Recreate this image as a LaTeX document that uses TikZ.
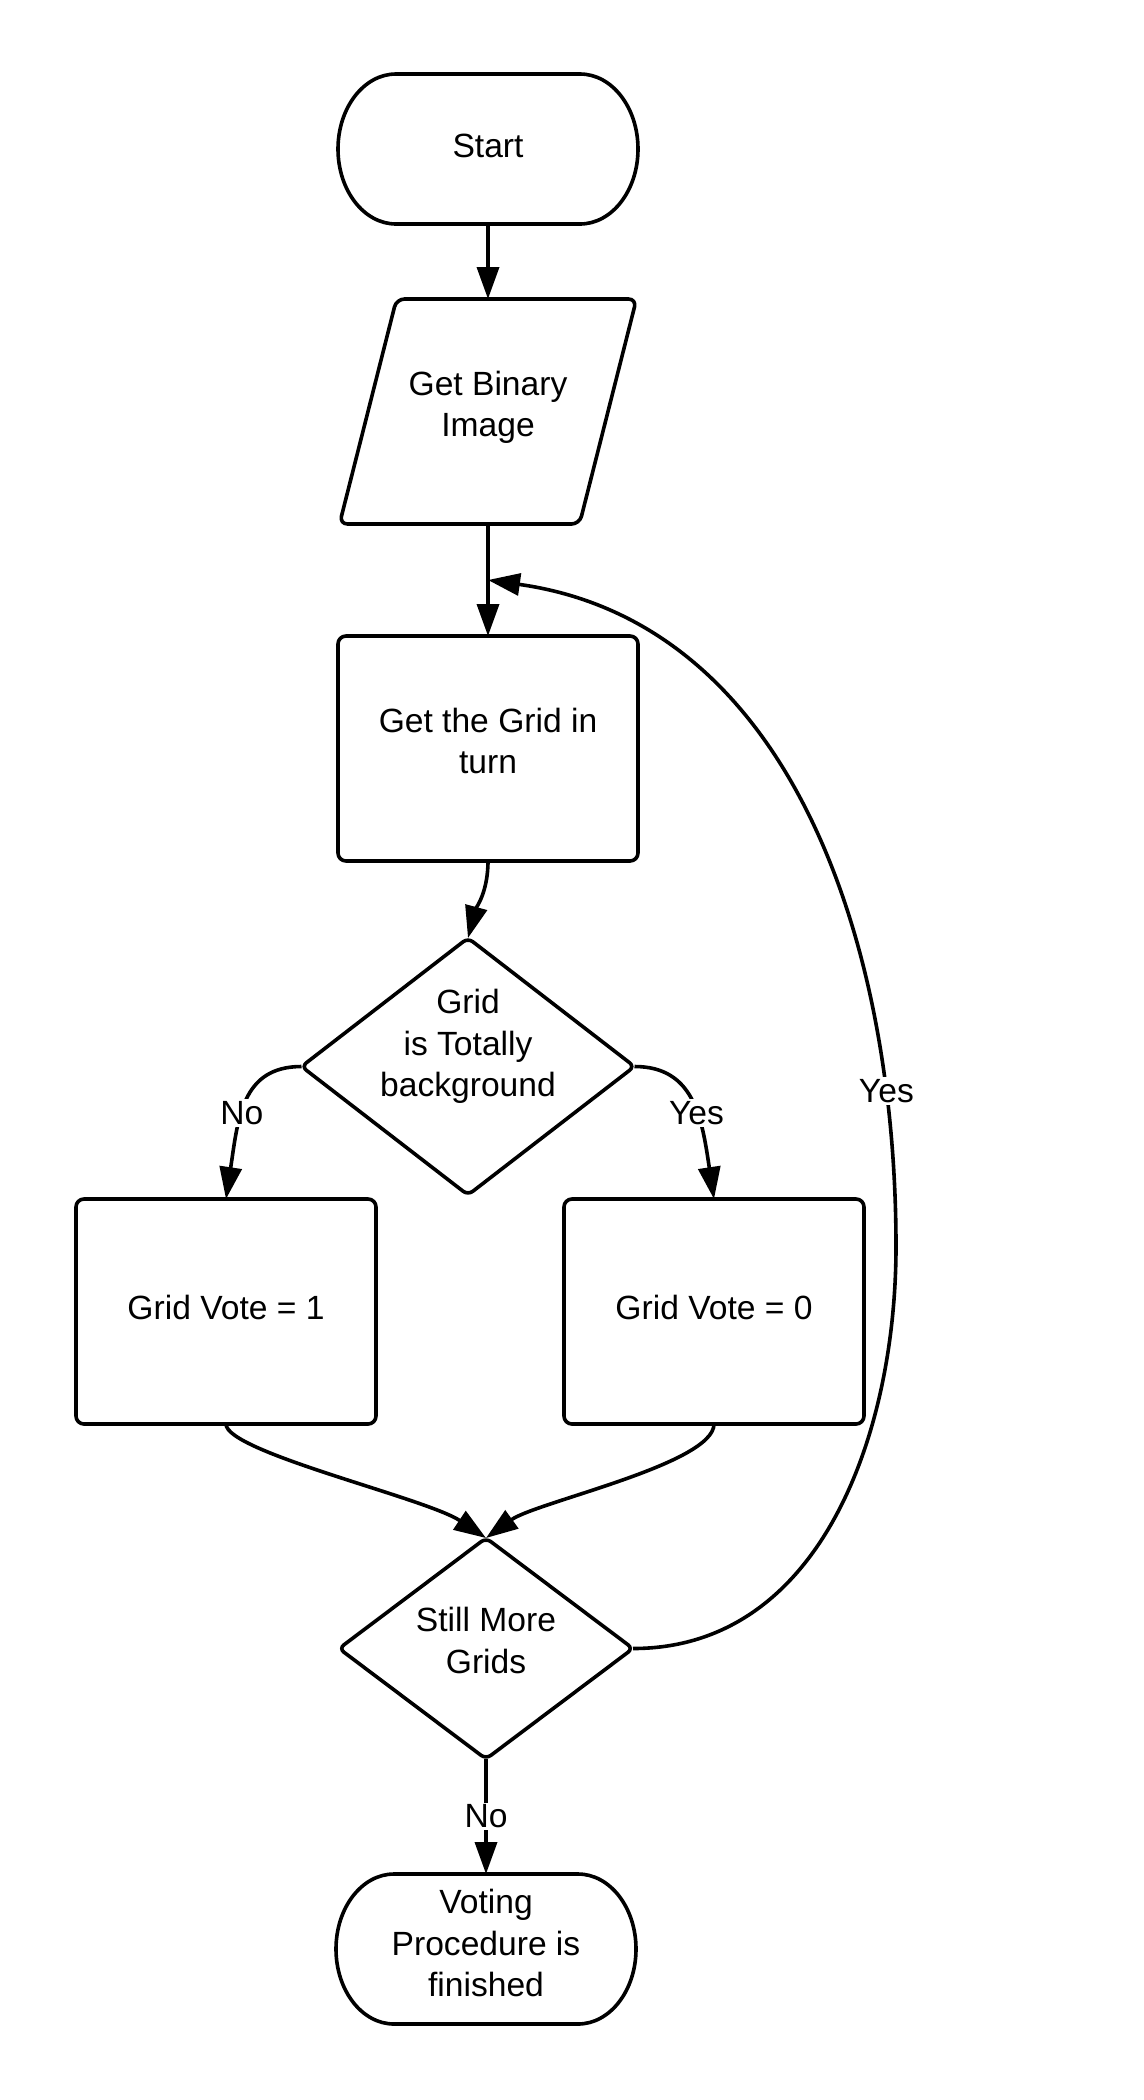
\documentclass[tikz,border=0pt]{standalone}
\usepackage{fontspec}
\setmainfont{Liberation Sans}
\usetikzlibrary{arrows.meta,positioning,shapes.geometric}

% text sits a little above the middle of its shape
\newcommand{\liftup}[2][2pt]{\raisebox{#1}[\height][\depth]{\begin{tabular}{@{}c@{}}#2\end{tabular}}}

\begin{document}
\begin{tikzpicture}[
		>={Triangle[length=16pt,width=11pt]},
		line width=1.8pt,
		every node/.style={font=\fontsize{16.8}{20.75}\selectfont,align=center,outer sep=0pt},
		terminal/.style={minimum width=150pt,minimum height=75pt,inner sep=0pt},
		io/.style={minimum width=148.5pt,minimum height=112.5pt,inner sep=0pt},
		process/.style={rectangle,draw,rounded corners=4pt,minimum width=150pt,minimum height=112.5pt,inner sep=0pt},
		decision/.style={diamond,draw,rounded corners=3pt,inner sep=0pt},
		answer/.style={fill=white,inner sep=1pt}
	]
	\useasboundingbox (0,0) rectangle (572pt,-1050pt);

	\node[terminal] (start) at (244pt,-74.5pt) {\liftup[0pt]{Start}};
	\node[io,below=37.5pt of start] (image) {\liftup{Get Binary\\Image}};
	\node[process,below=56pt of image] (grid) {\liftup{Get the Grid in\\turn}};
	\node[decision,minimum width=166.5pt,minimum height=128.5pt,below=38.5pt of grid,xshift=-10pt] (empty) {};
	\node (emptytext) at ([yshift=10pt]empty) {Grid\\is Totally\\background};
	\node[process,below=2pt of empty,xshift=-121pt] (one) {\liftup[0pt]{Grid Vote = 1}};
	\node[process,below=2pt of empty,xshift=123pt] (zero) {\liftup[0pt]{Grid Vote = 0}};
	\node[decision,minimum width=147pt,minimum height=110.5pt,below=171.5pt of empty,xshift=9pt] (more) {};
	\node (moretext) at ([yshift=4pt]more) {Still More\\Grids};
	\node[terminal,below=57.5pt of more] (finish) {\liftup[1pt]{Voting\\Procedure is\\finished}};
	\coordinate[below=28pt of image] (back);
	\coordinate (turn) at ([xshift=16pt,yshift=32.5pt]zero.east);

	% outlines of the start/end and input shapes
	\foreach \t in {start,finish}
		\draw ([xshift=29pt]\t.north west) -- ([xshift=-29pt]\t.north east)
			arc[start angle=90,end angle=-90,x radius=29pt,y radius=37.5pt]
			-- ([xshift=29pt]\t.south west)
			arc[start angle=270,end angle=90,x radius=29pt,y radius=37.5pt] -- cycle;
	\draw[rounded corners=4pt] (image.south west) -- ([xshift=-28.5pt]image.south east)
		-- (image.north east) -- ([xshift=28.5pt]image.north west) -- cycle;

	\draw[->] (start) -- (image);
	\draw[->] (image) -- (grid);
	\draw[->] (grid.south) to[out=-90,in=75] (empty.north);
	\draw[->] (empty.west) .. controls +(-30pt,0) and +(6pt,40pt) .. node[answer,pos=0.57] {No} (one.north);
	\draw[->] (empty.east) .. controls +(30pt,0) and +(-6pt,40pt) .. node[answer,pos=0.57] {Yes} (zero.north);
	\draw[->] (one.south) .. controls +(0,-14pt) and +(-30pt,20pt) .. (more.north);
	\draw[->] (zero.south) .. controls +(0,-20pt) and +(25pt,18pt) .. (more.north);
	\draw[->] (more) -- node[answer] {No} (finish);
	\draw[->] (more.east) to[out=0,in=-90] (turn)
		to[out=90,in=-8] node[answer,pos=0.17] {Yes} (back);
\end{tikzpicture}
\end{document}
